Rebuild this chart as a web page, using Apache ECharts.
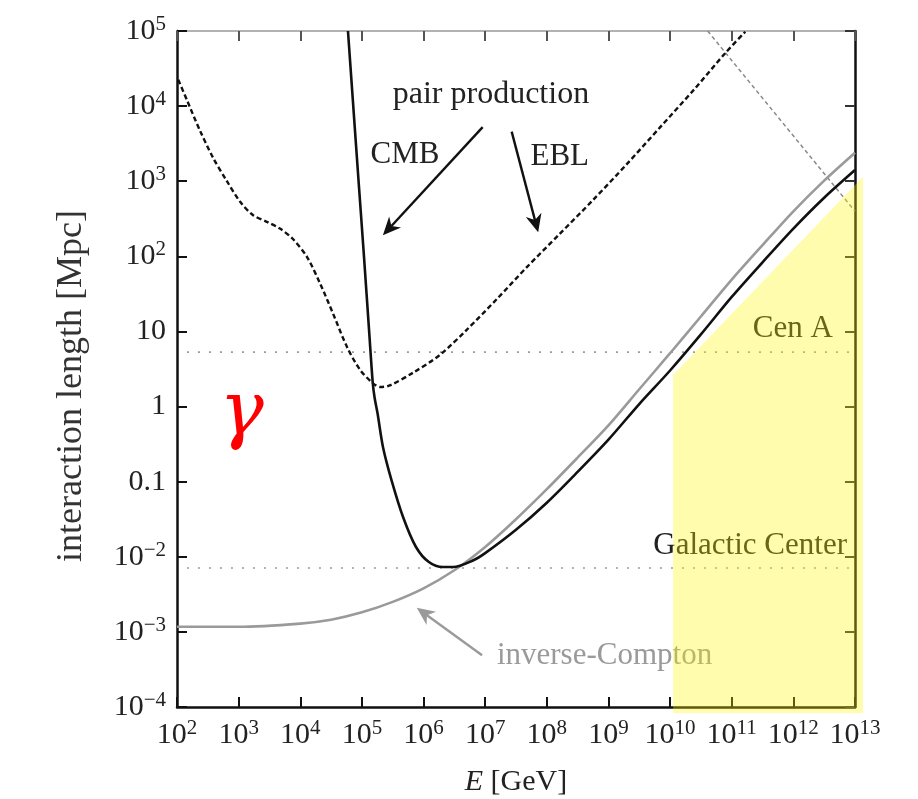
<!DOCTYPE html>
<html><head><meta charset="utf-8">
<script src="https://cdn.jsdelivr.net/npm/echarts@6/dist/echarts.min.js"></script>
<style>html,body{margin:0;padding:0;background:#fff}#c{width:918px;height:799px}</style>
</head><body><div id="c"></div>
<script>
// ---------------- data ----------------
const xTickValues = [1e2, 1e3, 1e4, 1e5, 1e6, 1e7, 1e8, 1e9, 1e10, 1e11, 1e12, 1e13];
const yTickValues = [1e-4, 1e-3, 1e-2, 0.1, 1, 10, 1e2, 1e3, 1e4, 1e5];
const yTickLabels = {'5':['10','5'],'4':['10','4'],'3':['10','3'],'2':['10','2'],'1':['10',''],'0':['1',''],'-1':['0.1',''],'-2':['10','\u22122'],'-3':['10','\u22123'],'-4':['10','\u22124']};

// pair production on CMB (black solid)
const cmbE = [5.94e4, 7.24e4, 8.83e4, 1.08e5, 1.31e5, 1.50e5, 1.61e5, 1.79e5, 2.2e5, 3.02e5, 4.65e5, 7.54e5, 1.22e6, 2.07e6, 3.0e6, 6.31e6, 1e7, 3.16e7, 1e8, 3.16e8, 1e9, 3.16e9, 1e10, 3.16e10, 1e11, 3.16e11, 1e12, 3.16e12, 1e13];
const cmbL = [1e5, 1e4, 1e3, 100, 10, 2.06, 1.30, 0.82, 0.288, 0.105, 0.0339, 0.0135, 0.0085, 0.0073, 0.0073, 0.00891, 0.0112, 0.0229, 0.0525, 0.135, 0.363, 1.08, 3.02, 9.12, 28.8, 83.2, 234, 603, 1410];

// pair production on EBL (black dashed)
const eblE = [105, 145, 234, 380, 646, 1050, 1700, 2880, 4680, 7590, 1.29e4, 2.09e4, 3.39e4, 5.75e4, 9.33e4, 1.51e5, 2.0e5, 2.82e5, 6.76e5, 1.86e6, 5.01e6, 1.58e7, 4.79e7, 1.58e8, 5.62e8, 2.0e9, 6.92e9, 2.51e10, 7.94e10, 1.66e11];
const eblL = [22400, 12000, 4790, 2090, 1000, 537, 355, 288, 234, 170, 97.7, 43.7, 17.4, 6.17, 3.09, 2.04, 1.82, 1.91, 2.82, 4.9, 10.5, 27.5, 72.4, 195, 562, 1700, 5250, 17000, 51300, 97700];

// inverse-Compton (grey solid)
const icE = [1e2, 1e3, 1e4, 3.16e4, 1e5, 3.16e5, 1e6, 3.16e6, 1e7, 3.16e7, 1e8, 3.16e8, 1e9, 3.16e9, 1e10, 3.16e10, 1e11, 3.16e11, 1e12, 3.16e12, 1e13];
const icL = [1.17e-3, 1.17e-3, 1.29e-3, 1.45e-3, 1.82e-3, 2.51e-3, 3.80e-3, 6.61e-3, 0.0135, 0.0316, 0.0794, 0.209, 0.562, 1.70, 5.13, 15.8, 49.0, 141, 398, 1020, 2400];

// grey dashed diagonal
const diagE = [4.07e10, 1e13];
const diagL = [1e5, 398];

// distance reference lines
const distanceLabels = ['Cen A', 'Galactic Center'];
const distanceValues = [5.3, 0.0071];
const distanceSpanE = [145, 8.9e12];

// shaded (yellow) region vertices [E, L]
const yellowRegion = [[1.12e10, 8.3e-5], [1.12e10, 2.63], [1.35e13, 1150], [1.35e13, 8.3e-5]];

// ---------------- chart ----------------
const FONT = '"Liberation Serif", "DejaVu Serif", serif';
const zip = (a, b) => a.map((v, i) => [v, b[i]]);
const chart = echarts.init(document.getElementById('c'));

function xFmt(v) {
  const e = Math.round(Math.log10(v));
  return '{b|10}{s|' + e + '}';
}
function yFmt(v) {
  const e = Math.round(Math.log10(v));
  const t = yTickLabels[String(e)];
  if (!t) return '';
  return t[1] ? '{b|' + t[0] + '}{s|' + t[1] + '}' : '{b|' + t[0] + '}';
}
const rich = {
  b: {fontFamily: FONT, fontSize: 30, lineHeight: 34, color: '#222', verticalAlign: 'middle'},
  s: {fontFamily: FONT, fontSize: 21, lineHeight: 20, color: '#222', verticalAlign: 'top'}
};

const baseX = {type: 'log', logBase: 10, min: 100, max: 1e13, splitLine: {show: false}, minorTick: {show: false}};
const baseY = {type: 'log', logBase: 10, min: 1e-4, max: 1e5, splitLine: {show: false}, minorTick: {show: false}};

const option = {
  backgroundColor: '#fff',
  animation: false,
  grid: {left: 177, top: 31, right: 63, bottom: 92, containLabel: false},
  xAxis: [
    Object.assign({}, baseX, {position: 'bottom',
      axisLine: {show: true, lineStyle: {color: '#111', width: 2.5}},
      axisTick: {show: true, inside: true, length: 10, customValues: xTickValues, lineStyle: {color: '#111', width: 2}},
      axisLabel: {show: true, margin: 11, customValues: xTickValues, hideOverlap: false, formatter: xFmt, rich: rich}}),
    Object.assign({}, baseX, {position: 'top',
      axisLine: {show: true, onZero: false, lineStyle: {color: '#999', width: 1.5}},
      axisTick: {show: true, inside: true, length: 10, customValues: xTickValues, lineStyle: {color: '#555', width: 2}},
      axisLabel: {show: false}})
  ],
  yAxis: [
    Object.assign({}, baseY, {position: 'left',
      axisLine: {show: true, lineStyle: {color: '#111', width: 2.5}},
      axisTick: {show: true, inside: true, length: 10, customValues: yTickValues, lineStyle: {color: '#111', width: 2}},
      axisLabel: {show: true, margin: 11, customValues: yTickValues, hideOverlap: false, formatter: yFmt, rich: rich}}),
    Object.assign({}, baseY, {position: 'right',
      axisLine: {show: true, onZero: false, lineStyle: {color: '#111', width: 2.5}},
      axisTick: {show: true, inside: true, length: 10, customValues: yTickValues, lineStyle: {color: '#333', width: 2}},
      axisLabel: {show: false}})
  ],
  series: [
    {name: 'distance-cenA', type: 'line', data: distanceSpanE.map(e => [e, distanceValues[0]]), symbol: 'none',
     lineStyle: {color: '#9a9a9a', width: 1.6, type: [2, 9]}, z: 1, silent: true},
    {name: 'distance-GC', type: 'line', data: distanceSpanE.map(e => [e, distanceValues[1]]), symbol: 'none',
     lineStyle: {color: '#9a9a9a', width: 1.6, type: [2, 9]}, z: 1, silent: true},
    {name: 'diag', type: 'line', data: zip(diagE, diagL), symbol: 'none',
     lineStyle: {color: '#8a8a8a', width: 1.5, type: [4, 3]}, z: 2, silent: true},
    {name: 'inverse-Compton', type: 'line', data: zip(icE, icL), symbol: 'none', smooth: 0.3,
     lineStyle: {color: '#9a9a9a', width: 2.6}, z: 3, silent: true},
    {name: 'EBL', type: 'line', data: zip(eblE, eblL), symbol: 'none', smooth: 0.3,
     lineStyle: {color: '#111', width: 2.4, type: [5, 3]}, z: 4, silent: true},
    {name: 'CMB', type: 'line', data: zip(cmbE, cmbL), symbol: 'none', smooth: 0.3,
     lineStyle: {color: '#111', width: 2.6}, z: 5, silent: true},
    {name: 'region', type: 'custom', coordinateSystem: 'cartesian2d', data: yellowRegion, z: 20, clip: false, silent: true,
     renderItem: function (params, api) {
       if (params.dataIndex !== 0) return null;
       const pts = yellowRegion.map(p => api.coord(p));
       return {type: 'polygon', shape: {points: pts}, style: {fill: 'rgba(255,246,0,0.32)'}};
     }}
  ]
};
chart.setOption(option);

// ---------------- annotations (placed in data space) ----------------
const P = (e, l) => chart.convertToPixel({gridIndex: 0}, [e, l]);
function arrow(from, to, color, width, head) {
  const dx = to[0] - from[0], dy = to[1] - from[1];
  const len = Math.sqrt(dx * dx + dy * dy), ux = dx / len, uy = dy / len;
  const px = -uy, py = ux;
  const hl = head, hw = head * 0.45;
  const base = [to[0] - ux * hl, to[1] - uy * hl];
  const notch = [to[0] - ux * hl * 0.7, to[1] - uy * hl * 0.7];
  return [
    {type: 'line', z: 6, shape: {x1: from[0], y1: from[1], x2: notch[0], y2: notch[1]}, style: {stroke: color, lineWidth: width}},
    {type: 'polygon', z: 6, shape: {points: [to, [base[0] + px * hw, base[1] + py * hw], notch, [base[0] - px * hw, base[1] - py * hw]]}, style: {fill: color}}
  ];
}
function txt(pos, text, opts) {
  return Object.assign({type: 'text', z: 6, x: pos[0], y: pos[1],
    style: Object.assign({text: text, fontFamily: FONT, fontSize: 31, fill: '#222', align: 'center', verticalAlign: 'middle'}, opts || {})});
}
const g = [];
g.push(txt(P(1.24e7, 1.41e4), 'pair production', {fontSize: 32}));
g.push(txt(P(5.0e5, 2240), 'CMB'));
g.push(txt(P(1.62e8, 2090), 'EBL'));
g.push(...arrow(P(9.1e6, 5250), P(2.19e5, 191), '#111', 2.4, 18));
g.push(...arrow(P(2.69e7, 4570), P(7.24e7, 209), '#111', 2.4, 18));
g.push(txt(P(4.37e12, 10.7), distanceLabels[0], {align: 'right'}));
g.push(txt(P(7.41e12, 0.0138), distanceLabels[1], {align: 'right'}));
g.push(txt(P(1.55e7, 4.8e-4), 'inverse-Compton', {align: 'left', fill: '#9a9a9a'}));
g.push(...arrow(P(8.9e6, 4.9e-4), P(7.76e5, 2.09e-3), '#9a9a9a', 2.4, 18));
g.push(txt(P(1.12e3, 0.776), '\u03b3', {fontSize: 74, fill: '#ff0000', fontStyle: 'italic', fontFamily: '"DejaVu Serif", serif'}));
// axis titles
g.push({type: 'text', z: 6, x: 516, y: 782, style: {text: '{i|E} [GeV]', align: 'center', verticalAlign: 'middle',
  rich: {i: {fontFamily: FONT, fontSize: 30, fontStyle: 'italic', fill: '#222'}}, fontFamily: FONT, fontSize: 30, fill: '#222'}});
g.push({type: 'text', z: 6, x: 72, y: 386, rotation: Math.PI / 2,
  style: {text: 'interaction length [Mpc]', fontFamily: FONT, fontSize: 36, fill: '#333', align: 'center', verticalAlign: 'middle'}});
chart.setOption({graphic: g});
</script></body></html>
